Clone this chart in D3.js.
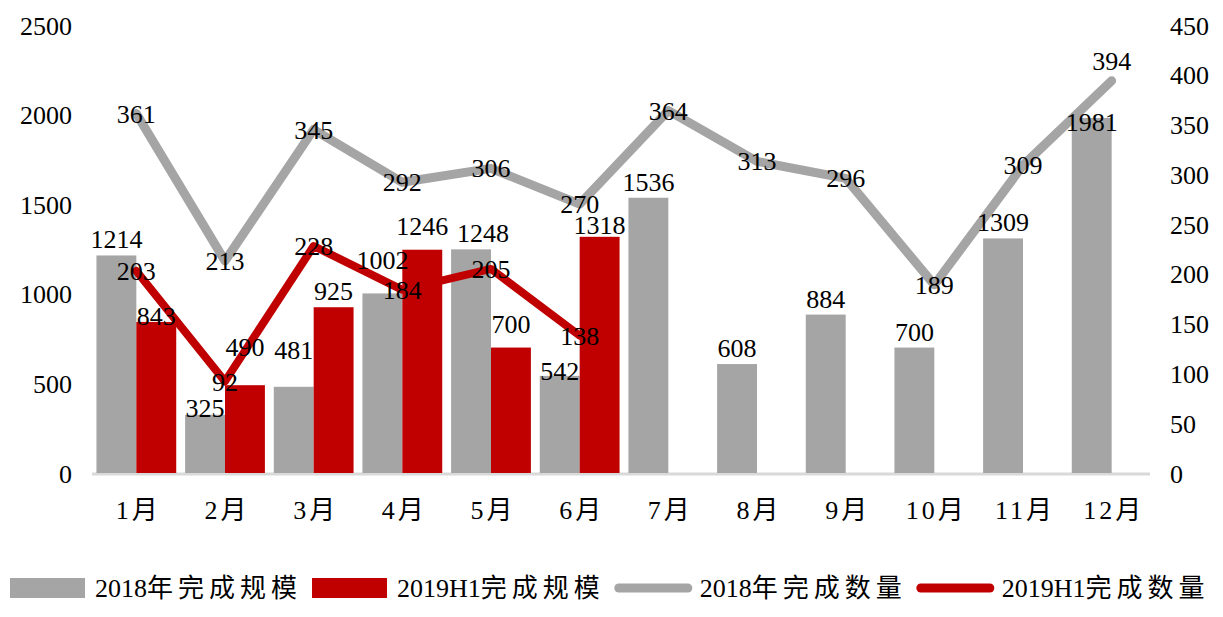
<!DOCTYPE html>
<html><head><meta charset="utf-8">
<script src="https://cdn.jsdelivr.net/npm/d3@7"></script>
<style>
html,body{margin:0;padding:0;background:#fff;}
svg text{font-family:"Liberation Serif","Times New Roman","Noto Sans CJK SC",serif;fill:#000;}
</style></head>
<body><svg id="c" width="1223" height="617"></svg>
<script>
const months = ["1月","2月","3月","4月","5月","6月","7月","8月","9月","10月","11月","12月"];
const scale2018 = [1214,325,481,1002,1248,542,1536,608,884,700,1309,1981];
const scale2019H1 = [843,490,925,1246,700,1318];
const count2018 = [361,213,345,292,306,270,364,313,296,189,309,394];
const count2019H1 = [203,92,228,184,205,138];
const leftTicks = [0,500,1000,1500,2000,2500];
const rightTicks = [0,50,100,150,200,250,300,350,400,450];
const seriesNames = ["2018年完成规模","2019H1完成规模","2018年完成数量","2019H1完成数量"];

// label placement tweaks (pixel nudges, as in the reference layout)
const labelNudge = {
  "b18:1":[0,9], "b18:2":[0,-21], "b18:3":[0,-17], "b18:4":[12,0], "b18:5":[0,11], "b18:11":[0,20],
  "b19:0":[0,10], "b19:1":[0,-22], "b19:3":[0,-8], "b19:4":[0,-8], "b19:5":[0,4],
  "c18:11":[0,-20]
};
const nd = (k,j)=> (labelNudge[k]||[0,0])[j];

const GRAY="#A5A5A5", RED="#C00000", FS=26;
const svg = d3.select("#c");
const x = d3.scaleBand().domain(months).range([92,1156]).paddingInner(0).paddingOuter(0);
const yL = d3.scaleLinear().domain([0,2500]).range([473,25]);
const yR = d3.scaleLinear().domain([0,450]).range([473,25]);
const bw = x.bandwidth()*0.45;
const cx = m => x(m)+x.bandwidth()/2;

// axis baseline
svg.append("line").attr("x1",92).attr("x2",1150).attr("y1",yL(0)+1).attr("y2",yL(0)+1)
  .attr("stroke","#D9D9D9").attr("stroke-width",3);

// left axis
const gL = svg.append("g").attr("transform","translate(72,0)")
  .call(d3.axisLeft(yL).tickValues(leftTicks).tickSize(0).tickPadding(0).tickFormat(d3.format("d")));
gL.select(".domain").remove();
gL.selectAll("text").attr("font-size",FS).attr("font-family",null).attr("dy","0.35em");
// right axis
const gR = svg.append("g").attr("transform","translate(1170,0)")
  .call(d3.axisRight(yR).tickValues(rightTicks).tickSize(0).tickPadding(0).tickFormat(d3.format("d")));
gR.select(".domain").remove();
gR.selectAll("text").attr("font-size",FS).attr("font-family",null).attr("dy","0.35em");
// bottom axis labels
const gB = svg.append("g").attr("transform","translate(0,510)")
  .call(d3.axisBottom(x).tickSize(0).tickPadding(0));
gB.select(".domain").remove();
gB.selectAll("text").attr("font-size",FS).attr("font-family",null).attr("dy","0.35em")
  .attr("letter-spacing","3px").attr("dx","2");

// bars
const d18 = months.map((m,i)=>({m,v:scale2018[i],k:"b18:"+i}));
const d19 = scale2019H1.map((v,i)=>({m:months[i],v,k:"b19:"+i}));
svg.append("g").selectAll("rect").data(d18).join("rect")
  .attr("x",d=>cx(d.m)-bw).attr("width",bw).attr("y",d=>yL(d.v)).attr("height",d=>yL(0)-yL(d.v)).attr("fill",GRAY);
svg.append("g").selectAll("rect").data(d19).join("rect")
  .attr("x",d=>cx(d.m)).attr("width",bw).attr("y",d=>yL(d.v)).attr("height",d=>yL(0)-yL(d.v)).attr("fill",RED);

// lines
const c18 = months.map((m,i)=>({m,v:count2018[i],k:"c18:"+i}));
const c19 = count2019H1.map((v,i)=>({m:months[i],v,k:"c19:"+i}));
const line = d3.line().x(d=>cx(d.m)).y(d=>yR(d.v));
svg.append("path").datum(c18).attr("d",line).attr("fill","none").attr("stroke",GRAY)
  .attr("stroke-width",9).attr("stroke-linejoin","round").attr("stroke-linecap","round");
svg.append("path").datum(c19).attr("d",line).attr("fill","none").attr("stroke",RED)
  .attr("stroke-width",8).attr("stroke-linejoin","round").attr("stroke-linecap","round");

// bar labels
svg.append("g").selectAll("text").data(d18).join("text")
  .attr("x",d=>cx(d.m)-bw/2+nd(d.k,0)).attr("y",d=>yL(d.v)-7+nd(d.k,1)).attr("text-anchor","middle").attr("font-size",FS).text(d=>d.v);
svg.append("g").selectAll("text").data(d19).join("text")
  .attr("x",d=>cx(d.m)+bw/2+nd(d.k,0)).attr("y",d=>yL(d.v)-7+nd(d.k,1)).attr("text-anchor","middle").attr("font-size",FS).text(d=>d.v);
// line labels
svg.append("g").selectAll("text").data(c18.concat(c19)).join("text")
  .attr("x",d=>cx(d.m)+nd(d.k,0)).attr("y",d=>yR(d.v)+nd(d.k,1)).attr("dy","0.35em").attr("text-anchor","middle").attr("font-size",FS).text(d=>d.v);

// legend
const lg = svg.append("g");
let lx = 10; const ly = 588;
seriesNames.forEach((name,i)=>{
  const col = (i%2===0)?GRAY:RED;
  if(i<2){
    lg.append("rect").attr("x",lx).attr("y",ly-10).attr("width",75).attr("height",20).attr("fill",col);
  } else {
    lg.append("line").attr("x1",lx+4).attr("x2",lx+73).attr("y1",ly).attr("y2",ly)
      .attr("stroke",col).attr("stroke-width",9).attr("stroke-linecap","round");
  }
  const t = lg.append("text").attr("x",lx+85).attr("y",ly).attr("dy","0.35em").attr("font-size",FS);
  const parts = name.match(/[\u4e00-\u9fff]+|[^\u4e00-\u9fff]+/g);
  parts.forEach(p=>{
    const ts = t.append("tspan").text(p);
    if(/[\u4e00-\u9fff]/.test(p)) ts.attr("letter-spacing","5px");
  });
  lx += 85 + t.node().getComputedTextLength() + 10;
});
</script></body></html>
